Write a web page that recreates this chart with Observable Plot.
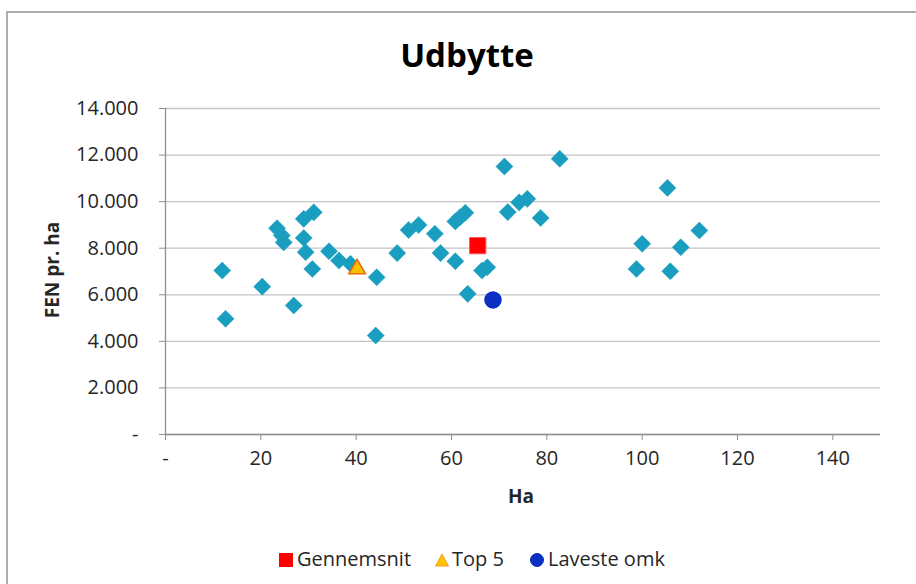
<!DOCTYPE html>
<html>
<head>
<meta charset="utf-8">
<script src="https://cdn.jsdelivr.net/npm/d3@7"></script>
<script src="https://cdn.jsdelivr.net/npm/@observablehq/plot@0.6"></script>
<style>
  html, body { margin: 0; padding: 0; background: #fff; overflow: hidden; }
  #wrap { position: relative; width: 916px; height: 584px; font-family: "Open Sans", sans-serif; color: #262626; }
  #wrap svg.plot { position: absolute; left: 0; top: 0; }
  .abs { position: absolute; white-space: nowrap; line-height: 1; }
  #frame { position: absolute; left: 6px; top: 11px; width: 930px; height: 600px; border: 2px solid #adadad; pointer-events: none; }
  .leg { position: absolute; top: 549px; font-size: 20px; line-height: 1; white-space: nowrap; color: #262626; }
  .sw { position: absolute; }
</style>
</head>
<body>
<div id="wrap"></div>
<script>
// ---- data ----
const haBlue = [11.9, 12.6, 20.3, 26.9, 23.4, 24.4, 24.8, 29.0, 31.1, 29.0, 29.4, 30.8, 34.3, 36.4, 38.8, 44.3, 44.1, 48.6, 51.0, 53.1, 56.5, 57.7, 60.8, 60.8, 61.8, 62.9, 63.4, 66.4, 67.5, 71.1, 71.8, 74.2, 75.9, 78.7, 82.7, 105.3, 100.0, 98.8, 105.9, 108.1, 112.0];
const fenBlue = [7040, 4970, 6350, 5540, 8860, 8550, 8250, 9260, 9540, 8440, 7830, 7110, 7870, 7470, 7330, 6750, 4250, 7790, 8780, 9000, 8620, 7790, 7440, 9150, 9330, 9520, 6040, 7040, 7180, 11510, 9550, 9970, 10120, 9300, 11840, 10590, 8190, 7110, 7010, 8040, 8760];
const avgHa = [65.5], avgFen = [8110];        // Gennemsnit
const top5Ha = [40.2], top5Fen = [7110];      // Top 5
const lowHa = [68.7], lowFen = [5780];        // Laveste omk
const xTicks = [0, 20, 40, 60, 80, 100, 120, 140];
const yTicks = [0, 2000, 4000, 6000, 8000, 10000, 12000, 14000];
const legendLabels = ["Gennemsnit", "Top 5", "Laveste omk"];
const titleText = "Udbytte", xLabel = "Ha", yLabel = "FEN pr. ha";

const blue = haBlue.map((h, i) => ({ha: h, fen: fenBlue[i]}));
const avg = avgHa.map((h, i) => ({ha: h, fen: avgFen[i]}));
const top5 = top5Ha.map((h, i) => ({ha: h, fen: top5Fen[i]}));
const low = lowHa.map((h, i) => ({ha: h, fen: lowFen[i]}));

const fmt = d => d === 0 ? "-" : d3.format(",")(d).replace(/,/g, ".");

const chart = Plot.plot({
  width: 916, height: 584,
  marginLeft: 165, marginRight: 36, marginTop: 108, marginBottom: 150,
  style: {fontFamily: "Open Sans, sans-serif", fontSize: "20px", background: "transparent", color: "#262626"},
  x: {domain: [0, 150], label: null},
  y: {domain: [0, 14000], label: null},
  marks: [
    Plot.gridY(yTicks, {stroke: "#c4c4c4", strokeOpacity: 1, strokeWidth: 1.3}),
    Plot.ruleX([0], {stroke: "#8f8f8f", strokeWidth: 1.3}),
    Plot.ruleY([0], {stroke: "#8f8f8f", strokeWidth: 1.3, x1: 0, x2: 150}),
    Plot.axisY({ticks: yTicks, tickSize: 6, tickPadding: 21, tickFormat: fmt, stroke: "#8f8f8f", fill: "#262626", label: null}),
    Plot.axisX({ticks: xTicks, tickSize: 6, tickPadding: 10, tickFormat: fmt, stroke: "#8f8f8f", fill: "#262626", label: null}),
    Plot.dot(blue, {x: "ha", y: "fen", symbol: "diamond2", r: 7.7, fill: "#1a9ec0", stroke: "#1a9ec0", strokeWidth: 0.5}),
    Plot.dot(avg, {x: "ha", y: "fen", symbol: "square", r: 9.2, fill: "#ff0000", stroke: "#ff5a5a", strokeWidth: 1}),
    Plot.dot(top5, {x: "ha", y: "fen", symbol: "triangle", r: 6.2, fill: "#ffc000", stroke: "#e46c0a", strokeWidth: 1.5}),
    Plot.dot(low, {x: "ha", y: "fen", symbol: "circle", r: 8, fill: "#0a2fc2", stroke: "#0a2fc2"})
  ]
});
chart.classList.add("plot");
const wrap = document.getElementById("wrap");
wrap.appendChild(chart);

function addDiv(cls, text, css) {
  const d = document.createElement("div");
  d.className = cls; d.textContent = text; Object.assign(d.style, css);
  wrap.appendChild(d); return d;
}
addDiv("abs", titleText, {left: "467px", top: "38px", transform: "translateX(-50%)", fontSize: "33px", fontWeight: "700", color: "#000"});
addDiv("abs", xLabel, {left: "521px", top: "487px", transform: "translateX(-50%)", fontSize: "19px", fontWeight: "700", color: "#262626"});
addDiv("abs", yLabel, {left: "52px", top: "270px", transform: "translate(-50%,-50%) rotate(-90deg)", fontSize: "19px", fontWeight: "700", color: "#262626"});

// legend
const ns = "http://www.w3.org/2000/svg";
function swatch(left, kind, fill, stroke) {
  const s = document.createElementNS(ns, "svg");
  s.setAttribute("width", 16); s.setAttribute("height", 16);
  s.setAttribute("class", "sw");
  s.style.left = left + "px"; s.style.top = "552px";
  let el;
  if (kind === "square") { el = document.createElementNS(ns, "rect"); el.setAttribute("x", 1.5); el.setAttribute("y", 1.5); el.setAttribute("width", 13); el.setAttribute("height", 13); }
  else if (kind === "triangle") { el = document.createElementNS(ns, "path"); el.setAttribute("d", "M8,2L14.5,14H1.5Z"); }
  else { el = document.createElementNS(ns, "circle"); el.setAttribute("cx", 8); el.setAttribute("cy", 8); el.setAttribute("r", 6.5); }
  el.setAttribute("fill", fill); el.setAttribute("stroke", stroke); el.setAttribute("stroke-width", 1);
  s.appendChild(el); wrap.appendChild(s);
}
swatch(278, "square", "#ff0000", "#ff0000");
addDiv("leg", legendLabels[0], {left: "297px"});
swatch(434, "triangle", "#ffc000", "#f0a020");
addDiv("leg", legendLabels[1], {left: "452px"});
swatch(529, "circle", "#0a2fc2", "#0a2fc2");
addDiv("leg", legendLabels[2], {left: "548px"});

const fr = document.createElement("div"); fr.id = "frame"; wrap.appendChild(fr);
</script>
</body>
</html>
